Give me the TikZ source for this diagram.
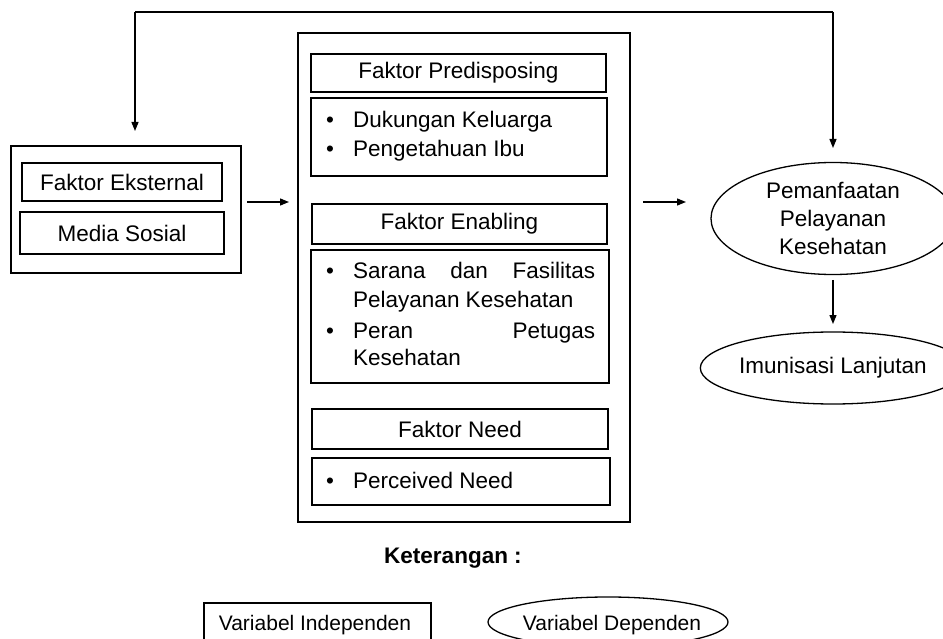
\documentclass[tikz,border=0pt]{standalone}
\usepackage{fontspec}
\setmainfont{Liberation Sans}
\usetikzlibrary{arrows.meta,shapes.geometric}
\begin{document}
\begin{tikzpicture}[x=1pt,y=-1pt,
  lw/.style={line width=1.3pt},
  rbox/.style={draw,lw,rectangle,inner sep=0pt,font=\fontsize{22.5}{27}\selectfont},
  ebox/.style={draw,lw,ellipse,inner sep=0pt,font=\fontsize{22.5}{28}\selectfont,align=center},
  txt/.style={inner sep=0pt,font=\fontsize{22.5}{27}\selectfont},
  smalltxt/.style={inner sep=0pt,font=\fontsize{21}{25}\selectfont},
  arr/.style={lw,-{Triangle[length=9pt,width=7pt]}},
  ln/.style={lw}]
\clip (0,0) rectangle (943,639);
% left group
\node[rbox,minimum width=230pt,minimum height=127pt] (ext) at (126,209.5) {};
\node[rbox,minimum width=200pt,minimum height=38pt] (fe) at (122,182) {Faktor Eksternal};
\node[rbox,minimum width=204pt,minimum height=42pt] (ms) at (122,233) {Media Sosial};
% middle group
\node[rbox,minimum width=332pt,minimum height=489pt] (mid) at (464,277.5) {};
\node[rbox,minimum width=295pt,minimum height=38pt] (ph) at (458.5,73) {Faktor Predisposing};
\node[rbox,minimum width=296pt,minimum height=78pt] (pc) at (459,137) {};
\node[rbox,minimum width=295pt,minimum height=40pt] (eh) at (459.5,224) {Faktor Enabling};
\node[rbox,minimum width=298pt,minimum height=133pt] (ec) at (460,316.5) {};
\node[rbox,minimum width=296pt,minimum height=40pt] (nh) at (460,429) {Faktor Need};
\node[rbox,minimum width=298pt,minimum height=47pt] (nc) at (461,481.5) {};
% bullets
\node[txt,anchor=base] (b1) at (330,128) {\textbullet};
\node[txt,anchor=base west] (t1) at (353,128) {Dukungan Keluarga};
\node[txt,anchor=base] (b2) at (330,157) {\textbullet};
\node[txt,anchor=base west] (t2) at (353,157) {Pengetahuan Ibu};
\node[txt,anchor=base] (b3) at (330,279) {\textbullet};
\node[txt,anchor=base west] (t3) at (353,279) {\makebox[242pt][s]{Sarana dan Fasilitas}};
\node[txt,anchor=base west] (t4) at (353,308) {Pelayanan Kesehatan};
\node[txt,anchor=base] (b5) at (330,338) {\textbullet};
\node[txt,anchor=base west] (t5) at (353,338) {\makebox[242pt][s]{Peran Petugas}};
\node[txt,anchor=base west] (t6) at (353,365) {Kesehatan};
\node[txt,anchor=base] (b7) at (330,488) {\textbullet};
\node[txt,anchor=base west] (t7) at (353,488) {Perceived Need};
% right group
\node[ebox,minimum width=244pt,minimum height=112pt] (pem) at (833,218.5) {Pemanfaatan\\Pelayanan\\Kesehatan};
\node[ebox,minimum width=228pt,minimum height=72pt] (imu) at (833,368) {Imunisasi Lanjutan};
% connectors
\coordinate (a1s) at (247,202);
\coordinate (a1e) at (289,202);
\coordinate (a2s) at (643,202);
\coordinate (a2e) at (686,202);
\coordinate (tl) at (135,12);
\coordinate (tr) at (833,12);
\coordinate (tla) at (135,131);
\coordinate (tra) at (833,148);
\coordinate (a3s) at (833,280);
\coordinate (a3e) at (833,324);
\draw[arr] (a1s) -- (a1e);
\draw[arr] (a2s) -- (a2e);
\draw[ln] (tl) -- (tr);
\draw[arr] (tl) -- (tla);
\draw[arr] (tr) -- (tra);
\draw[arr] (a3s) -- (a3e);
% legend
\node[txt,font=\bfseries\fontsize{22.5}{27}\selectfont] (ket) at (453,558) {Keterangan :};
\node[rbox,minimum width=227pt,minimum height=54pt] (li) at (317.5,630) {};
\node[smalltxt,anchor=base] (lit) at (315,630) {Variabel Independen};
\node[ebox,minimum width=240pt,minimum height=50pt] (ld) at (608,622) {};
\node[smalltxt,anchor=base] (ldt) at (612,630) {Variabel Dependen};
\end{tikzpicture}
\end{document}
